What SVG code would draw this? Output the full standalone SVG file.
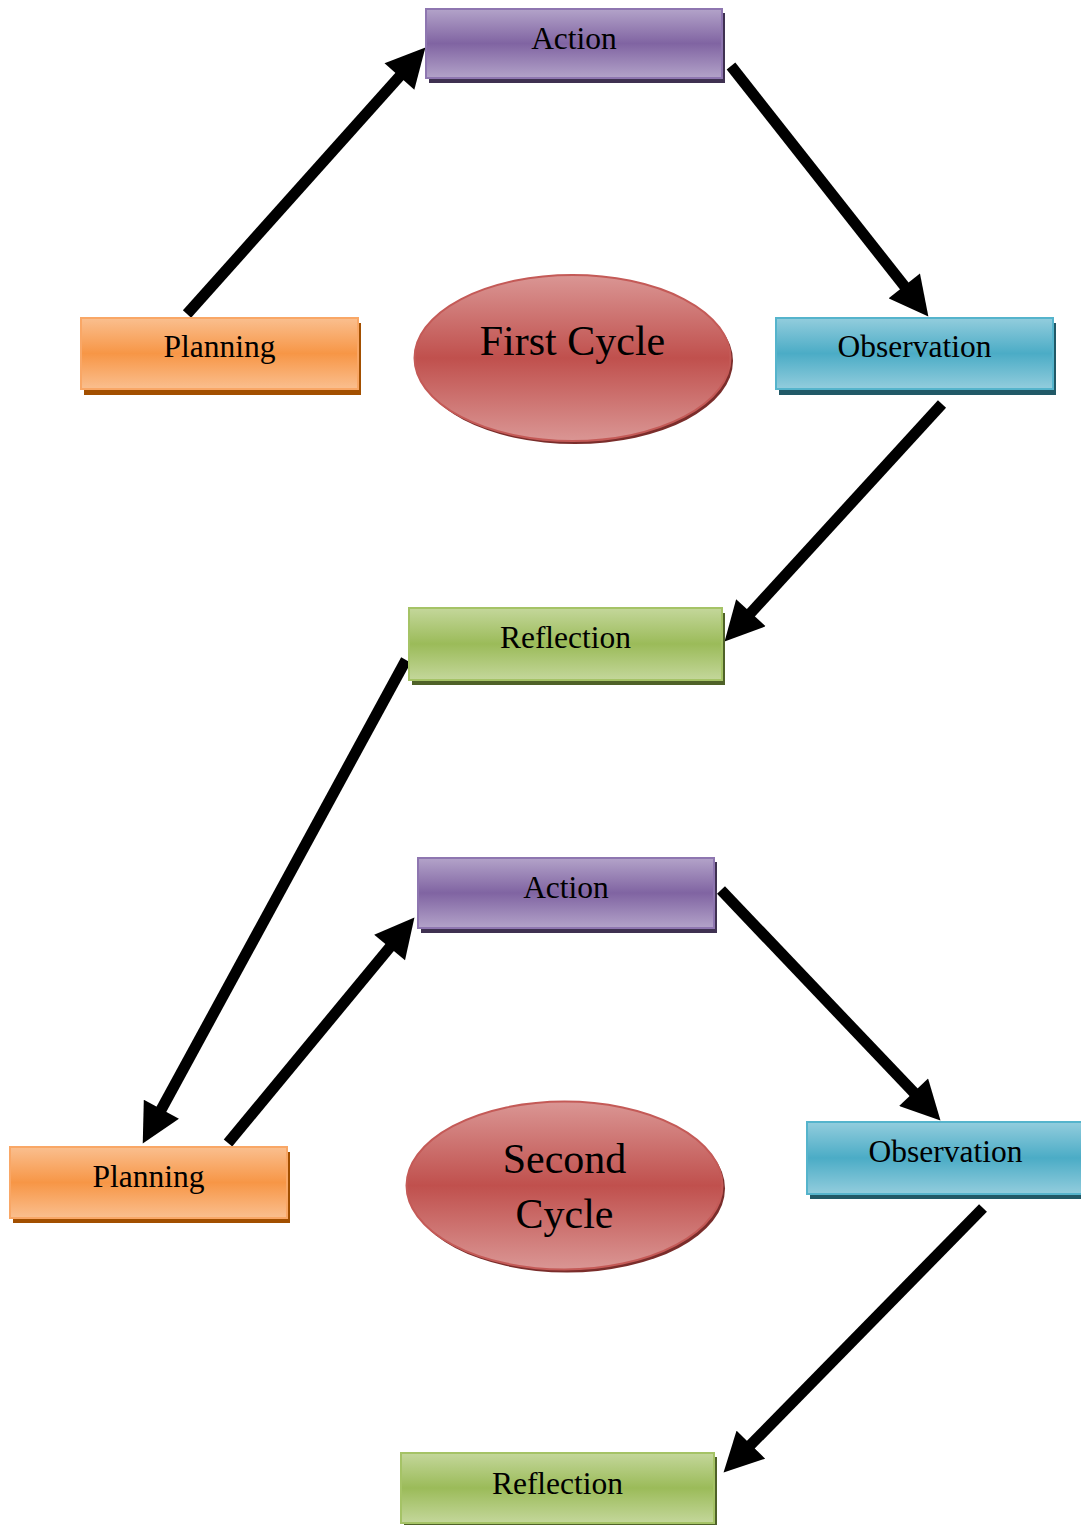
<svg xmlns="http://www.w3.org/2000/svg" width="1081" height="1525" viewBox="0 0 1081 1525">
<defs>
<linearGradient id="gP" x1="0" y1="0" x2="0" y2="1"><stop offset="0" stop-color="#b3a3c9"/><stop offset="0.5" stop-color="#8064a2"/><stop offset="1" stop-color="#b3a3c9"/></linearGradient>
<linearGradient id="gO" x1="0" y1="0" x2="0" y2="1"><stop offset="0" stop-color="#fabf8f"/><stop offset="0.5" stop-color="#f79646"/><stop offset="1" stop-color="#fabf8f"/></linearGradient>
<linearGradient id="gB" x1="0" y1="0" x2="0" y2="1"><stop offset="0" stop-color="#93cddd"/><stop offset="0.5" stop-color="#4bacc6"/><stop offset="1" stop-color="#93cddd"/></linearGradient>
<linearGradient id="gG" x1="0" y1="0" x2="0" y2="1"><stop offset="0" stop-color="#c4d79b"/><stop offset="0.5" stop-color="#9bbb59"/><stop offset="1" stop-color="#c4d79b"/></linearGradient>
<linearGradient id="gR" x1="0" y1="0" x2="0" y2="1"><stop offset="0" stop-color="#da9694"/><stop offset="0.5" stop-color="#c0504d"/><stop offset="1" stop-color="#da9694"/></linearGradient>
<marker id="ah" markerUnits="userSpaceOnUse" markerWidth="40" markerHeight="40" viewBox="0 0 38 39" refX="13" refY="19.5" orient="auto">
<path d="M0,0 L38,19.5 L0,39 Z" fill="#000"/>
</marker>
<style>
.lbl{font-family:"Liberation Serif","Times New Roman",serif;font-size:31.5px;fill:#000;text-anchor:middle}
.big{font-family:"Liberation Serif","Times New Roman",serif;font-size:42px;fill:#000;text-anchor:middle}
.p{fill:url(#gP);stroke:#8e76b0;stroke-width:2}
.ps{fill:#3f3151}
.o{fill:url(#gO);stroke:#f9a766;stroke-width:2}
.os{fill:#a24f00}
.b{fill:url(#gB);stroke:#55b4cc;stroke-width:2}
.bs{fill:#215967}
.g{fill:url(#gG);stroke:#a5c366;stroke-width:2}
.gs{fill:#4f6228}
.r{fill:url(#gR);stroke:#c45a57;stroke-width:2}
.rs{fill:#7a2d2b}
.arr{stroke:#000;stroke-width:11;fill:none;marker-end:url(#ah)}
</style>
</defs>
<rect width="1081" height="1525" fill="#fff"/>

<g id="connectors">
<line class="arr" x1="187" y1="314" x2="408.3" y2="66.6"/>
<line class="arr" x1="731" y1="66" x2="912.5" y2="296.4"/>
<line class="arr" x1="942" y1="404" x2="741.9" y2="622.6"/>
<line class="arr" x1="406" y1="660" x2="155" y2="1121"/>
<line class="arr" x1="228" y1="1143" x2="398.1" y2="937.3"/>
<line class="arr" x1="721" y1="890" x2="922.8" y2="1101.9"/>
<line class="arr" x1="983" y1="1208" x2="741.5" y2="1454.2"/>
</g>

<g id="action1">
<rect class="ps" x="429" y="13" width="296" height="70"/>
<rect class="p" x="426" y="9" width="296" height="69"/>
<text class="lbl" x="574" y="49">Action</text>
</g>
<g id="planning1">
<rect class="os" x="84" y="323" width="277" height="72"/>
<rect class="o" x="81" y="318" width="277" height="71"/>
<text class="lbl" x="219.5" y="357">Planning</text>
</g>
<g id="firstcycle">
<ellipse class="rs" cx="575" cy="361" rx="158" ry="83"/>
<ellipse class="r" cx="572.5" cy="358" rx="158" ry="83"/>
<text class="big" x="572.5" y="355">First Cycle</text>
</g>
<g id="observation1">
<rect class="bs" x="779" y="323" width="277" height="72"/>
<rect class="b" x="776" y="318" width="277" height="71"/>
<text class="lbl" x="914.5" y="357">Observation</text>
</g>
<g id="reflection1">
<rect class="gs" x="412" y="613" width="313" height="72"/>
<rect class="g" x="409" y="608" width="313" height="72"/>
<text class="lbl" x="565.5" y="648">Reflection</text>
</g>
<g id="action2">
<rect class="ps" x="421" y="862" width="296" height="71"/>
<rect class="p" x="418" y="858" width="296" height="70"/>
<text class="lbl" x="566" y="898">Action</text>
</g>
<g id="planning2">
<rect class="os" x="13" y="1152" width="277" height="71"/>
<rect class="o" x="10" y="1147" width="277" height="71"/>
<text class="lbl" x="148.5" y="1187">Planning</text>
</g>
<g id="secondcycle">
<ellipse class="rs" cx="567" cy="1188.5" rx="158" ry="84"/>
<ellipse class="r" cx="564.5" cy="1185.5" rx="158" ry="84"/>
<text class="big" x="564.5" y="1173">Second</text>
<text class="big" x="564.5" y="1228">Cycle</text>
</g>
<g id="observation2">
<rect class="bs" x="810" y="1127" width="277" height="72"/>
<rect class="b" x="807" y="1122" width="277" height="72"/>
<text class="lbl" x="945.5" y="1162">Observation</text>
</g>
<g id="reflection2">
<rect class="gs" x="404" y="1457" width="313" height="71"/>
<rect class="g" x="401" y="1453" width="313" height="70"/>
<text class="lbl" x="557.5" y="1494">Reflection</text>
</g>
</svg>
